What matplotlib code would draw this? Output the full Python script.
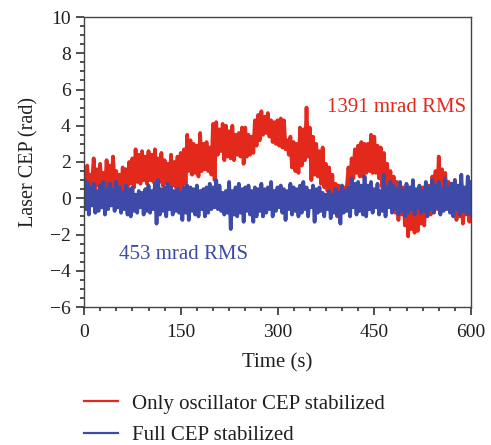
import numpy as np
import matplotlib
matplotlib.use("Agg")
import matplotlib.pyplot as plt

plt.rcParams['font.family'] = ['Liberation Serif', 'DejaVu Serif']

time_s = np.arange(0, 605, 5)

red_hi = [1.5,1.8,1.3,2.2,1.6,1.9,1.4,2.1,1.8,2.3,
          1.5,1.3,1.7,1.6,2.0,2.2,2.7,2.4,2.6,2.3,
          2.6,2.4,2.7,2.2,2.5,2.1,1.9,2.4,2.0,2.3,
          2.5,2.7,3.5,3.2,3.0,2.9,3.6,3.0,3.1,2.8,
          4.1,4.2,3.8,4.1,4.0,3.7,4.0,3.5,3.6,3.9,
          3.9,3.5,3.4,4.3,4.6,4.8,4.5,4.7,4.3,4.2,
          4.3,4.4,4.3,3.2,3.4,3.1,3.0,3.9,3.8,5.0,
          3.9,3.4,3.0,2.6,2.8,1.9,1.7,1.3,0.8,0.7,
          0.4,0.6,1.7,2.2,2.7,2.9,3.1,3.0,3.0,3.5,
          3.4,2.9,2.8,2.5,1.9,1.5,1.2,0.9,0.8,0.6,
          0.3,0.2,0.4,0.2,0.5,0.6,0.4,0.7,1.2,1.5,
          2.3,1.6,1.4,0.9,0.8,1.0,0.6,0.7,0.4,0.5,0.3]
red_lo = [0.6,0.5,0.8,0.4,0.7,0.5,0.3,0.6,0.4,0.7,
          0.5,0.2,0.4,0.6,0.8,0.6,0.9,0.8,1.0,0.8,
          1.0,0.9,0.7,0.9,0.7,0.8,0.6,0.7,0.6,0.3,
          0.3,0.8,1.5,1.3,1.4,1.2,1.5,1.6,1.5,1.3,
          1.0,2.4,2.6,2.1,2.3,2.2,2.1,2.4,2.3,1.9,
          2.3,2.4,2.5,2.9,3.2,3.5,3.6,3.4,3.1,3.0,
          2.9,2.8,2.7,2.4,1.7,1.5,1.4,1.8,2.1,2.3,
          1.0,1.3,1.2,0.8,0.6,0.4,0.0,-0.6,-1.0,-0.4,
          0.1,0.6,0.8,1.1,1.4,1.2,1.2,1.4,1.5,1.4,
          1.4,1.1,0.6,0.3,0.1,-0.3,-0.8,-1.2,-0.9,-1.5,
          -2.1,-1.7,-1.9,-1.8,-1.4,-1.5,-0.7,-0.9,-0.3,-0.6,
          -0.4,-0.3,-0.5,-0.3,-0.9,-1.2,-1.0,-1.4,-0.9,-1.3,-1.0]
blue_hi = [1.0,0.9,0.6,0.8,0.4,0.7,0.9,0.5,0.8,0.5,
           0.9,0.6,0.3,0.7,0.5,0.6,0.2,0.4,0.3,0.5,
           0.7,0.4,0.8,1.0,0.5,0.6,0.8,0.6,0.4,0.5,
           0.3,0.6,0.7,0.6,0.5,0.7,0.4,0.5,0.6,0.8,
           0.6,1.0,0.7,0.3,0.4,0.9,0.4,0.6,0.8,0.5,
           0.6,0.7,0.4,0.6,0.5,0.8,0.5,0.6,0.9,0.4,
           0.6,0.7,0.5,0.4,0.8,0.6,0.5,0.7,0.9,0.6,
           0.4,0.7,0.5,0.6,0.3,0.2,0.4,0.2,0.5,0.3,
           0.7,0.4,0.6,1.1,0.8,0.9,0.7,1.2,0.7,0.9,
           0.5,0.8,0.4,1.3,0.6,0.9,0.7,0.5,0.9,0.4,
           0.8,0.6,1.0,0.5,0.7,0.4,0.9,0.6,1.0,0.7,
           0.9,0.5,1.1,0.6,0.8,1.0,0.7,1.3,0.6,1.2,0.9]
blue_lo = [-0.6,-0.9,-0.4,-0.8,-0.7,-0.5,-0.9,-0.6,-0.4,-0.7,
           -0.5,-0.8,-0.6,-0.9,-1.0,-0.7,-0.8,-0.5,-0.9,-0.7,
           -0.8,-0.6,-1.4,-0.9,-0.7,-1.0,-0.6,-0.9,-0.7,-0.8,
           -1.2,-0.8,-1.2,-0.7,-0.9,-1.0,-0.6,-1.0,-0.8,-0.6,
           -0.5,-0.6,-0.7,-0.9,-0.8,-1.7,-0.9,-1.0,-0.8,-1.3,
           -0.7,-0.9,-1.3,-1.0,-0.7,-1.0,-0.8,-0.6,-1.0,-0.7,
           -0.5,-0.8,-1.2,-0.6,-0.9,-0.7,-1.0,-0.8,-0.6,-1.0,
           -0.5,-1.3,-0.8,-0.7,-1.0,-0.6,-1.1,-0.8,-0.9,-1.4,
           -0.8,-0.7,-1.0,-0.5,-0.9,-0.7,-0.9,-1.0,-0.6,-0.8,
           -0.5,-0.9,-0.7,-1.0,-0.5,-0.8,-0.6,-0.9,-0.7,-1.0,
           -0.8,-0.6,-0.9,-0.5,-0.8,-0.7,-1.0,-0.6,-0.8,-0.5,
           -0.9,-0.7,-0.6,-0.8,-1.0,-0.6,-0.9,-0.7,-0.8,-0.9,-0.6]

x_ticks = [0, 150, 300, 450, 600]
y_ticks = [-6, -4, -2, 0, 2, 4, 6, 8, 10]
label_red = "Only oscillator CEP stabilized"
label_blue = "Full CEP stabilized"
RED = "#e3291c"
BLUE = "#3d4aa8"
INK = "#231f20"


def weave(hi, lo):
    t = np.column_stack([time_s, time_s + 2.5]).ravel()
    v = np.column_stack([hi, lo]).ravel()
    keep = t <= 600
    return t[keep], v[keep]


fig = plt.figure(figsize=(4.91, 4.45), dpi=100)
ax = fig.add_axes([84 / 491, 1 - 307 / 445, (471 - 84) / 491, 290 / 445])

tr, vr = weave(red_hi, red_lo)
tb, vb = weave(blue_hi, blue_lo)
ax.plot(tr, vr, color=RED, lw=2.7, label=label_red, solid_joinstyle="round")
ax.plot(tb, vb, color=BLUE, lw=2.7, label=label_blue, solid_joinstyle="round")

ax.set_xlim(0, 600)
ax.set_ylim(-6, 10)
ax.set_xticks(x_ticks)
ax.set_yticks(y_ticks)
ax.set_xticks(np.arange(0, 601, 25), minor=True)
ax.set_yticks(np.arange(-6, 10.1, 0.5), minor=True)
ax.tick_params(which="major", direction="out", length=6, width=1.1, labelsize=14, colors=INK, pad=3.5)
ax.tick_params(axis="x", which="major", pad=6)
ax.tick_params(which="minor", direction="out", length=3, width=1.1, colors=INK)
for s in ax.spines.values():
    s.set_linewidth(1.0)
    s.set_color("#444444")
ax.set_xlabel("Time (s)", fontsize=15, color=INK, labelpad=9)
ax.set_ylabel("Laser CEP (rad)", fontsize=14.5, color=INK, labelpad=8)

ax.text(484, 5.0, "1391 mrad RMS", color=RED, fontsize=15, ha="center", va="center")
ax.text(155, -3.1, "453 mrad RMS", color=BLUE, fontsize=15, ha="center", va="center")

leg = ax.legend(loc="upper left", bbox_to_anchor=(84 / 491, 1 - 394 / 445), bbox_transform=fig.transFigure,
                frameon=False, fontsize=15, handlelength=1.63, handletextpad=0.67,
                labelspacing=0.58, borderpad=0, borderaxespad=0, labelcolor=INK)
for h in leg.get_lines():
    h.set_linewidth(1.6)

fig.savefig("out.png", dpi=100)
